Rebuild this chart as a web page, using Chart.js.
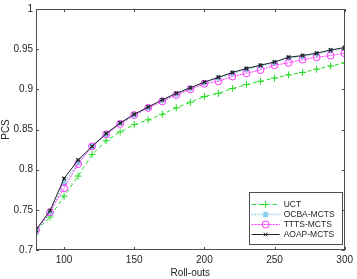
<!DOCTYPE html>
<html>
<head>
<meta charset="utf-8">
<script src="https://cdn.jsdelivr.net/npm/chart.js@4/dist/chart.umd.min.js"></script>
<style>
  body { margin: 0; background: #fff; }
  #wrap { width: 357px; height: 279px; position: relative; }
</style>
</head>
<body>
<div id="wrap"><canvas id="chart"></canvas></div>
<script>
// data
const rollouts = [80, 90, 100, 110, 120, 130, 140, 150, 160, 170, 180, 190, 200, 210, 220, 230, 240, 250, 260, 270, 280, 290, 300];
const uct  = [0.724, 0.741, 0.767, 0.792, 0.819, 0.836, 0.847, 0.856, 0.862, 0.869, 0.877, 0.884, 0.891, 0.895, 0.901, 0.906, 0.910, 0.914, 0.918, 0.921, 0.925, 0.929, 0.933];
const ocba = [0.721, 0.747, 0.783, 0.809, 0.829, 0.844, 0.858, 0.868, 0.877, 0.886, 0.894, 0.901, 0.908, 0.914, 0.920, 0.925, 0.929, 0.933, 0.939, 0.941, 0.944, 0.948, 0.951];
const ttts = [0.725, 0.747, 0.777, 0.807, 0.829, 0.844, 0.857, 0.868, 0.877, 0.885, 0.893, 0.900, 0.907, 0.910, 0.916, 0.920, 0.924, 0.930, 0.933, 0.937, 0.940, 0.942, 0.945];
const aoap = [0.725, 0.749, 0.789, 0.812, 0.829, 0.845, 0.858, 0.869, 0.878, 0.887, 0.895, 0.902, 0.909, 0.915, 0.921, 0.926, 0.930, 0.934, 0.940, 0.942, 0.945, 0.949, 0.952];

const xTicks = [100, 150, 200, 250, 300];
const yTicks = [0.7, 0.75, 0.8, 0.85, 0.9, 0.95, 1];
const yTickLabels = ['0.7', '0.75', '0.8', '0.85', '0.9', '0.95', '1'];

const FONT = "'Liberation Sans', Arial, sans-serif";
const AXIS = '#4d4d4d';
const TEXT = '#262626';

function pts(ys) {
    return rollouts.map((x, i) => ({ x: x, y: ys[i] }));
}

// frame + inward ticks on all four sides (matlab style)
const boxPlugin = {
    id: 'box',
    afterDatasetsDraw(chart) {
        const { ctx, chartArea: ca, scales } = chart;
        ctx.save();
        ctx.strokeStyle = AXIS;
        ctx.lineWidth = 1;
        ctx.strokeRect(Math.round(ca.left) + 0.5, Math.round(ca.top) + 0.5,
            Math.round(ca.right - ca.left) - 1, Math.round(ca.bottom - ca.top) - 1);
        ctx.beginPath();
        xTicks.forEach(v => {
            const px = Math.round(scales.x.getPixelForValue(v)) + 0.5;
            ctx.moveTo(px, ca.bottom); ctx.lineTo(px, ca.bottom - 3);
            ctx.moveTo(px, ca.top); ctx.lineTo(px, ca.top + 3);
        });
        yTicks.forEach(v => {
            const py = Math.round(scales.y.getPixelForValue(v)) + 0.5;
            ctx.moveTo(ca.left, py); ctx.lineTo(ca.left + 3, py);
            ctx.moveTo(ca.right, py); ctx.lineTo(ca.right - 3, py);
        });
        ctx.stroke();
        ctx.restore();
    }
};

// legend box inside the lower right corner of the axes
const legendPlugin = {
    id: 'boxLegend',
    afterDraw(chart) {
        const { ctx, chartArea: ca } = chart;
        const w = 93, h = 52;
        const x0 = ca.right - 3 - w, y0 = ca.bottom - 6 - h;
        ctx.save();
        ctx.fillStyle = '#fff';
        ctx.fillRect(x0, y0, w, h);
        ctx.strokeStyle = AXIS;
        ctx.lineWidth = 1;
        ctx.strokeRect(Math.round(x0) + 0.5, Math.round(y0) + 0.5, w, h);
        chart.data.datasets.forEach((ds, i) => {
            const y = Math.round(y0 + 11.5 + i * 10.3) + 0.5;
            ctx.strokeStyle = ds.borderColor;
            ctx.lineWidth = ds.borderWidth;
            ctx.setLineDash(ds.borderDash || []);
            ctx.beginPath();
            ctx.moveTo(x0 + 3, y);
            ctx.lineTo(x0 + 31, y);
            ctx.stroke();
            ctx.setLineDash([]);
            ctx.fillStyle = ds.pointBackgroundColor;
            Chart.helpers.drawPoint(ctx, {
                pointStyle: ds.pointStyle, radius: ds.pointRadius,
                rotation: 0, borderWidth: ds.pointBorderWidth
            }, x0 + 17, y);
            ctx.fillStyle = TEXT;
            ctx.font = '8.5px ' + FONT;
            ctx.textBaseline = 'middle';
            ctx.textAlign = 'left';
            ctx.fillText(ds.label, x0 + 35, y);
        });
        ctx.restore();
    }
};

const ctx = document.getElementById('chart').getContext('2d');
new Chart(ctx, {
    type: 'line',
    data: {
        datasets: [
            {
                label: 'UCT', data: pts(uct), order: 4,
                borderColor: '#22dd22', borderWidth: 1, borderDash: [4, 3],
                pointStyle: 'cross', pointRadius: 3.5, pointBorderWidth: 1,
                pointBorderColor: '#22dd22', pointBackgroundColor: '#22dd22'
            },
            {
                label: 'OCBA-MCTS', data: pts(ocba), order: 3,
                borderColor: '#8ccfea', borderWidth: 1.5, borderDash: [1.5, 1.5],
                pointStyle: 'star', pointRadius: 3, pointBorderWidth: 1.5,
                pointBorderColor: '#8ccfea', pointBackgroundColor: '#8ccfea'
            },
            {
                label: 'TTTS-MCTS', data: pts(ttts), order: 2,
                borderColor: '#ff33ff', borderWidth: 1, borderDash: [2, 1],
                pointStyle: 'circle', pointRadius: 3.5, pointBorderWidth: 1,
                pointBorderColor: '#ff33ff', pointBackgroundColor: 'rgba(0,0,0,0)'
            },
            {
                label: 'AOAP-MCTS', data: pts(aoap), order: 1,
                borderColor: '#222222', borderWidth: 1,
                pointStyle: 'crossRot', pointRadius: 2.5, pointBorderWidth: 1.3,
                pointBorderColor: '#222222', pointBackgroundColor: '#222222'
            }
        ]
    },
    options: {
        responsive: true,
        maintainAspectRatio: false,
        animation: false,
        layout: { padding: { top: 4, right: 9, left: 0, bottom: 0 } },
        plugins: { legend: { display: false }, tooltip: { enabled: false } },
        elements: { line: { tension: 0 } },
        scales: {
            x: {
                type: 'linear', min: 80, max: 300,
                afterBuildTicks: s => { s.ticks = xTicks.map(v => ({ value: v })); },
                afterFit: s => { s.height = 29; },
                grid: { display: false, drawTicks: false },
                border: { display: false },
                ticks: { color: TEXT, padding: 4, maxRotation: 0, font: { family: FONT, size: 10 } },
                title: { display: true, text: 'Roll-outs', color: TEXT, padding: 0, font: { family: FONT, size: 10 } }
            },
            y: {
                min: 0.7, max: 1,
                afterBuildTicks: s => { s.ticks = yTicks.map(v => ({ value: v })); },
                afterFit: s => { s.width = 36; },
                grid: { display: false, drawTicks: false },
                border: { display: false },
                ticks: {
                    color: TEXT, padding: 3, font: { family: FONT, size: 10 },
                    callback: (v, i) => yTickLabels[i]
                },
                title: { display: true, text: 'PCS', color: TEXT, padding: 0, font: { family: FONT, size: 10 } }
            }
        }
    },
    plugins: [boxPlugin, legendPlugin]
});
</script>
</body>
</html>
